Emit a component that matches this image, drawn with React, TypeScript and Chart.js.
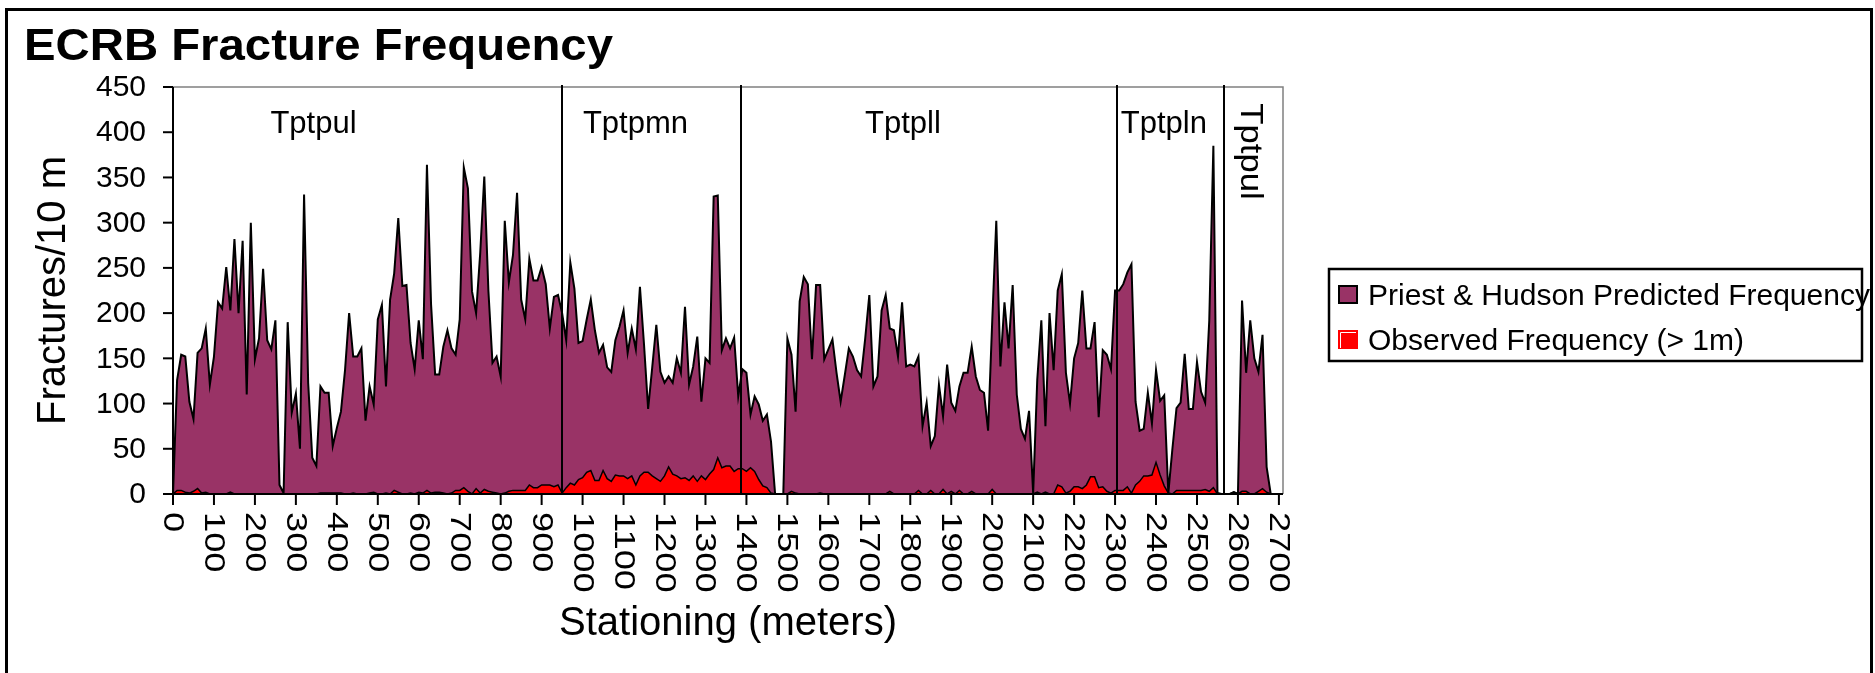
import React, { useEffect, useRef } from "react";
import { Chart, registerables } from "chart.js";

Chart.register(...registerables);

const chartTitle = "ECRB Fracture Frequency";
const yAxisTitle = "Fractures/10 m";
const xAxisTitle = "Stationing (meters)";
const seriesNames = ["Priest & Hudson Predicted Frequency", "Observed Frequency (> 1m)"];

// stationing every 10 m, 0 .. 2710
const stations = Array.from({ length: 272 }, (_, i) => i * 10);

const predicted = [
  0, 126, 154, 152, 102, 83, 156, 161, 183, 121,
  152, 212, 205, 251, 203, 282, 200, 280, 110, 300,
  149, 172, 249, 170, 160, 192, 10, 1, 190, 90,
  111, 50, 331, 123, 40, 31, 119, 112, 112, 53,
  73, 91, 137, 200, 152, 152, 161, 81, 119, 99,
  193, 209, 119, 215, 244, 305, 230, 231, 167, 138,
  192, 149, 364, 210, 132, 132, 163, 181, 161, 154,
  193, 361, 338, 224, 200, 266, 351, 225, 145, 152,
  130, 302, 234, 264, 333, 215, 193, 260, 236, 236,
  251, 232, 183, 218, 220, 200, 170, 256, 227, 167,
  169, 193, 215, 181, 156, 165, 140, 135, 170, 185,
  203, 156, 183, 160, 229, 165, 94, 140, 187, 135,
  123, 130, 123, 150, 134, 207, 121, 141, 174, 102,
  150, 145, 329, 330, 159, 172, 161, 173, 108, 138,
  134, 88, 108, 99, 81, 88, 58, 0, 0, 0,
  172, 154, 91, 213, 240, 232, 149, 231, 231, 149,
  160, 171, 134, 102, 131, 161, 152, 137, 130, 172,
  220, 119, 130, 203, 220, 183, 181, 152, 212, 141,
  143, 141, 152, 75, 101, 53, 64, 121, 86, 143,
  101, 92, 119, 134, 134, 163, 130, 115, 112, 70,
  190, 302, 141, 212, 161, 231, 110, 72, 61, 92,
  1, 126, 192, 75, 200, 137, 225, 243, 134, 100,
  150, 167, 225, 161, 161, 190, 85, 159, 154, 138,
  225, 225, 232, 245, 254, 102, 70, 72, 112, 78,
  137, 103, 109, 1, 50, 95, 101, 155, 94, 94,
  146, 113, 101, 192, 385, 1, 0, 0, 0, 2,
  0, 214, 134, 192, 150, 135, 176, 30, 0, 0,
  0, 0,
];

const observed = [
  0, 4, 4, 2, 1, 3, 6, 1, 2, 0,
  0, 0, 0, 0, 2, 0, 0, 0, 0, 0,
  0, 0, 0, 0, 0, 0, 0, 0, 0, 0,
  0, 0, 0, 0, 0, 0, 1, 1, 1, 1,
  1, 1, 0, 0, 1, 0, 0, 0, 1, 2,
  0, 0, 1, 0, 4, 2, 0, 0, 1, 0,
  2, 1, 4, 1, 2, 2, 1, 0, 1, 4,
  4, 7, 3, 0, 6, 1, 5, 3, 2, 1,
  0, 1, 3, 4, 4, 4, 4, 10, 7, 7,
  10, 10, 10, 8, 10, 1, 7, 12, 10, 16,
  18, 24, 26, 15, 15, 26, 17, 14, 21, 20,
  20, 17, 20, 10, 20, 24, 24, 20, 17, 14,
  20, 30, 22, 20, 17, 18, 15, 20, 14, 20,
  16, 22, 27, 40, 29, 31, 31, 25, 28, 28,
  25, 29, 25, 16, 9, 7, 1, 0, 0, 0,
  0, 3, 1, 0, 0, 0, 0, 0, 1, 0,
  0, 0, 0, 0, 0, 0, 0, 0, 0, 0,
  0, 0, 0, 0, 0, 3, 0, 0, 0, 0,
  0, 0, 4, 0, 0, 4, 0, 0, 5, 0,
  3, 0, 4, 0, 0, 3, 0, 0, 0, 0,
  5, 0, 0, 0, 0, 0, 0, 0, 0, 0,
  0, 2, 0, 2, 0, 0, 10, 8, 1, 3,
  8, 8, 6, 10, 19, 19, 7, 8, 3, 1,
  4, 4, 4, 8, 1, 10, 14, 20, 20, 21,
  35, 21, 9, 1, 0, 4, 4, 4, 4, 4,
  4, 4, 5, 3, 7, 0, 0, 0, 0, 2,
  0, 3, 3, 0, 0, 3, 6, 2, 0, 0,
  0, 0,
];

const yTickValues = [0, 50, 100, 150, 200, 250, 300, 350, 400, 450];
const xTickValues = [0, 100, 200, 300, 400, 500, 600, 700, 800, 900, 1000, 1100, 1200, 1300,
  1400, 1500, 1600, 1700, 1800, 1900, 2000, 2100, 2200, 2300, 2400, 2500, 2600, 2700];

// formation boundaries (stationing, m)
const boundaries = [950, 1387, 2305, 2567];
// formation labels: name, stationing of centre
const formationNames = ["Tptpul", "Tptpmn", "Tptpll", "Tptpln", "Tptpul"];
const formationStations = [343, 1129, 1782, 2419, 2629];
const formationRotated = [false, false, false, false, true];

const PLUM = "#993366";
const RED = "#FF0000";
const FONT = '"Liberation Sans", Arial, sans-serif';

const decorPlugin = {
  id: "decor",
  beforeDraw(chart: any) {
    const { ctx } = chart;
    ctx.save();
    ctx.fillStyle = "#ffffff";
    ctx.fillRect(0, 0, chart.width, chart.height);
    ctx.restore();
  },
  afterDatasetsDraw(chart: any) {
    const { ctx, chartArea: a } = chart;
    const x = chart.scales.x;
    const y = chart.scales.y;
    ctx.save();

    // outer frame
    ctx.strokeStyle = "#000";
    ctx.lineWidth = 3;
    ctx.strokeRect(6.5, 9.5, 1865, 720);

    // plot border (top/right)
    ctx.strokeStyle = "#808080";
    ctx.lineWidth = 1.5;
    ctx.beginPath();
    ctx.moveTo(a.left, a.top);
    ctx.lineTo(a.right, a.top);
    ctx.lineTo(a.right, a.bottom);
    ctx.stroke();

    // formation boundaries
    ctx.strokeStyle = "#000";
    ctx.lineWidth = 2;
    boundaries.forEach((b) => {
      const px = Math.round(x.getPixelForValue(b));
      ctx.beginPath();
      ctx.moveTo(px, a.top - 2);
      ctx.lineTo(px, a.bottom);
      ctx.stroke();
    });

    // axes
    ctx.lineWidth = 2;
    ctx.beginPath();
    ctx.moveTo(a.left, a.top);
    ctx.lineTo(a.left, a.bottom);
    ctx.lineTo(a.right, a.bottom);
    ctx.stroke();

    // y ticks + labels
    ctx.fillStyle = "#000";
    ctx.font = `30px ${FONT}`;
    ctx.textAlign = "right";
    ctx.textBaseline = "middle";
    yTickValues.forEach((v) => {
      const py = y.getPixelForValue(v);
      ctx.beginPath();
      ctx.moveTo(a.left - 10, py);
      ctx.lineTo(a.left, py);
      ctx.stroke();
      ctx.fillText(String(v), a.left - 27, py + 1);
    });

    // x ticks + rotated labels (clockwise, stretched along text)
    ctx.font = `29px ${FONT}`;
    xTickValues.forEach((v) => {
      const px = x.getPixelForValue(v);
      ctx.beginPath();
      ctx.moveTo(px, a.bottom);
      ctx.lineTo(px, a.bottom + 11);
      ctx.stroke();
      ctx.save();
      ctx.translate(px - 1, a.bottom + 18);
      ctx.rotate(Math.PI / 2);
      ctx.scale(1.25, 1);
      ctx.textAlign = "left";
      ctx.textBaseline = "middle";
      ctx.fillText(String(v), 0, 0);
      ctx.restore();
    });

    // axis titles
    ctx.font = `40px ${FONT}`;
    ctx.textAlign = "center";
    ctx.textBaseline = "middle";
    ctx.fillText(xAxisTitle, (a.left + a.right) / 2, 624);
    ctx.save();
    ctx.translate(54, (a.top + a.bottom) / 2);
    ctx.rotate(-Math.PI / 2);
    ctx.fillText(yAxisTitle, 0, 0);
    ctx.restore();

    // formation labels
    ctx.font = `31px ${FONT}`;
    formationNames.forEach((name, i) => {
      const px = x.getPixelForValue(formationStations[i]);
      if (formationRotated[i]) {
        ctx.save();
        ctx.translate(px, y.getPixelForValue(432));
        ctx.rotate(Math.PI / 2);
        ctx.scale(1.12, 1);
        ctx.textAlign = "left";
        ctx.textBaseline = "middle";
        ctx.fillText(name, 0, 0);
        ctx.restore();
      } else {
        ctx.textAlign = "center";
        ctx.textBaseline = "alphabetic";
        ctx.fillText(name, px, y.getPixelForValue(399));
      }
    });

    // title
    ctx.save();
    ctx.font = `bold 44px ${FONT}`;
    ctx.textAlign = "left";
    ctx.textBaseline = "alphabetic";
    const tw = ctx.measureText(chartTitle).width;
    ctx.translate(24, 60);
    ctx.scale(589 / tw, 1);
    ctx.fillText(chartTitle, 0, 0);
    ctx.restore();

    // legend
    ctx.lineWidth = 2.5;
    ctx.strokeStyle = "#000";
    ctx.strokeRect(1329, 269, 533, 92);
    ctx.font = `30px ${FONT}`;
    ctx.textAlign = "left";
    ctx.textBaseline = "alphabetic";
    ctx.fillStyle = PLUM;
    ctx.fillRect(1339, 286, 18, 17);
    ctx.lineWidth = 2;
    ctx.strokeRect(1339, 286, 18, 17);
    ctx.fillStyle = "#000";
    ctx.fillText(seriesNames[0], 1368, 305);
    ctx.fillStyle = RED;
    ctx.fillRect(1338, 330, 20, 19);
    ctx.strokeStyle = "#fff";
    ctx.lineWidth = 1;
    ctx.beginPath();
    ctx.moveTo(1340.5, 348);
    ctx.lineTo(1340.5, 332.5);
    ctx.lineTo(1356, 332.5);
    ctx.stroke();
    ctx.fillStyle = "#000";
    ctx.fillText(seriesNames[1], 1368, 350);

    ctx.restore();
  },
};

export default function App() {
  const canvasRef = useRef<HTMLCanvasElement | null>(null);

  useEffect(() => {
    const canvas = canvasRef.current;
    if (!canvas) return;
    const chart = new Chart(canvas, {
      type: "line",
      data: {
        datasets: [
          {
            label: seriesNames[1],
            data: observed.map((v, i) => ({ x: stations[i], y: v })),
            backgroundColor: RED,
            borderColor: "#000",
            borderWidth: 1.5,
            fill: "origin",
            pointRadius: 0,
            tension: 0,
          },
          {
            label: seriesNames[0],
            data: predicted.map((v, i) => ({ x: stations[i], y: v })),
            backgroundColor: PLUM,
            borderColor: "#000",
            borderWidth: 2,
            fill: "origin",
            pointRadius: 0,
            tension: 0,
          },
        ],
      },
      options: {
        animation: false,
        responsive: false,
        maintainAspectRatio: false,
        devicePixelRatio: 1,
        layout: { padding: { left: 173, top: 87, right: 592, bottom: 179 } },
        plugins: {
          legend: { display: false },
          tooltip: { enabled: false },
          title: { display: false },
        },
        scales: {
          x: { type: "linear", min: 0, max: 2710, display: false },
          y: { type: "linear", min: 0, max: 450, display: false },
        },
      },
      plugins: [decorPlugin],
    });
    return () => chart.destroy();
  }, []);

  return (
    <div style={{ position: "fixed", left: 0, top: 0, width: 1875, height: 673, background: "#fff" }}>
      <canvas ref={canvasRef} width={1875} height={673} style={{ width: 1875, height: 673, display: "block" }} />
    </div>
  );
}
